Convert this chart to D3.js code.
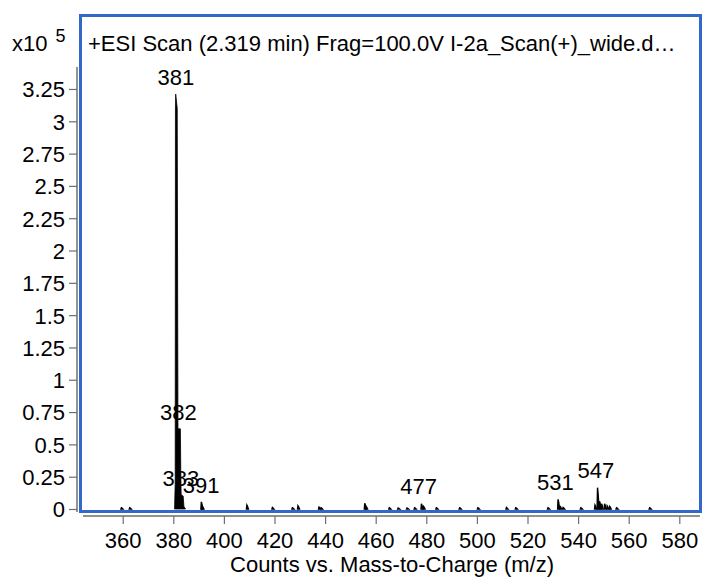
<!DOCTYPE html>
<html><head><meta charset="utf-8">
<script src="https://cdn.jsdelivr.net/npm/d3@7"></script>
<style>
html,body{margin:0;padding:0;background:#fff;}
text{font-family:"Liberation Sans",Arial,sans-serif;fill:#000;}
</style></head>
<body>
<svg id="chart" width="703" height="579"></svg>
<script>
// ---- data (intensity in units of 1e5 counts) ----
const titleText = "+ESI Scan (2.319 min) Frag=100.0V I-2a_Scan(+)_wide.d…";
const xLabel = "Counts vs. Mass-to-Charge (m/z)";
const xTicks = [360,380,400,420,440,460,480,500,520,540,560,580];
const yTicks = [0,0.25,0.5,0.75,1,1.25,1.5,1.75,2,2.25,2.5,2.75,3,3.25];
// profile of the main cluster 381-384
const clusterMz  = [380.5, 380.75, 380.85, 380.95, 381.55, 381.7, 381.85, 382.8, 382.95, 383.1, 383.9, 384.2, 384.8];
const clusterInt = [0,     0.2,    3.1,    3.21,   3.1,    1.8,   0.62,   0.62,  0.3,    0.11,  0.1,   0.02,  0];
// small peaks (centroid m/z, intensity)
const peakMz  = [359.6, 362.9, 391.2, 391.6, 409.2, 419.3, 427.2, 429.4, 437.7, 438.5, 455.8, 456.3, 465.5, 469.0, 472.5, 475.5, 478.2, 479.0, 484.1, 493.3, 500.5, 511.8, 515.5, 528.2, 532.2, 533.0, 534.2, 541.2, 546.8, 547.8, 548.6, 549.4, 550.6, 551.6, 552.6, 555.3, 568.4];
const peakInt = [0.01,  0.01,  0.055, 0.02,  0.03,  0.012, 0.01,  0.025, 0.015, 0.01,  0.045, 0.02,  0.01,  0.008, 0.008, 0.01,  0.04,  0.02,  0.01,  0.01,  0.01,  0.012, 0.01,  0.01,  0.075, 0.02,  0.012, 0.01,  0.03,  0.165, 0.06,  0.04,  0.04,  0.025, 0.02,  0.01,  0.01];
const labelMz  = [381, 382, 383, 391, 477, 531, 547];
const labelInt = [3.21, 0.62, 0.11, 0.055, 0.045, 0.075, 0.17];

// ---- drawing ----
const svg = d3.select("#chart");
const x = d3.scaleLinear().domain([360,580]).range([122.7,679.3]);
const y = d3.scaleLinear().domain([0,3.42]).range([509,67]);
const blue = "#3468c8";
const gray = "#6e6e6e";
const fs = "22px";

// y axis
const yAxis = d3.axisLeft(y).tickValues(yTicks).tickSize(8).tickPadding(4)
  .tickFormat(d => d3.format("")(d));
const gy = svg.append("g").attr("transform","translate(77,0)").call(yAxis);
gy.select(".domain").attr("stroke",gray).attr("stroke-width",1.5).attr("d","M0,67V512");
gy.selectAll(".tick line").attr("stroke",gray).attr("stroke-width",1.2);
gy.selectAll(".tick text").style("font-size",fs).attr("fill","#000").attr("dy","0.36em");

// x axis
const xAxis = d3.axisBottom(x).tickValues(xTicks).tickSize(8).tickPadding(8);
const gx = svg.append("g").attr("transform","translate(0,516)").call(xAxis);
gx.select(".domain").attr("stroke",gray).attr("stroke-width",1.5).attr("d","M83,0H700");
gx.selectAll(".tick line").attr("stroke",gray).attr("stroke-width",1.2);
gx.selectAll(".tick text").style("font-size",fs).attr("fill","#000");

// spectrum
svg.append("clipPath").attr("id","plotclip").append("rect")
  .attr("x",81).attr("y",16).attr("width",619).attr("height",495);
const area = d3.area().x(d=>x(d[0])).y0(y(0)).y1(d=>y(d[1]));
const cluster = clusterMz.map((m,i)=>[m, clusterInt[i]]);
const gSpec = svg.append("g").attr("clip-path","url(#plotclip)");
gSpec.append("path").datum(cluster).attr("d",area).attr("fill","#000").attr("stroke","#000").attr("stroke-width",0.8);
const hw = 0.3;
peakMz.forEach((m,i)=>{
  const pts = [[m-hw,0],[m-hw*0.4,peakInt[i]],[m+hw*0.4,peakInt[i]*0.7],[m+hw*1.6,0]];
  gSpec.append("path").datum(pts).attr("d",area).attr("fill","#000").attr("stroke","#000").attr("stroke-width",1.4);
});

// peak labels
svg.append("g").selectAll("text").data(labelMz).join("text")
  .attr("x",d=>x(d)).attr("y",(d,i)=>y(labelInt[i])-9)
  .attr("text-anchor","middle").style("font-size",fs).text(d=>d);

// blue frame
svg.append("rect").attr("x",80.5).attr("y",15.5).attr("width",620).attr("height",496)
  .attr("fill","none").attr("stroke",blue).attr("stroke-width",3);

// title
svg.append("text").attr("x",88).attr("y",51).style("font-size","22px").text(titleText);
// exponent
const ex = svg.append("text").attr("x",12).attr("y",51).style("font-size",fs);
ex.append("tspan").text("x10");
ex.append("tspan").attr("dx",8).attr("dy",-9).style("font-size","18px").text("5");

// x label
svg.append("text").attr("x",392).attr("y",572).attr("text-anchor","middle").style("font-size",fs).text(xLabel);
</script>
</body></html>
